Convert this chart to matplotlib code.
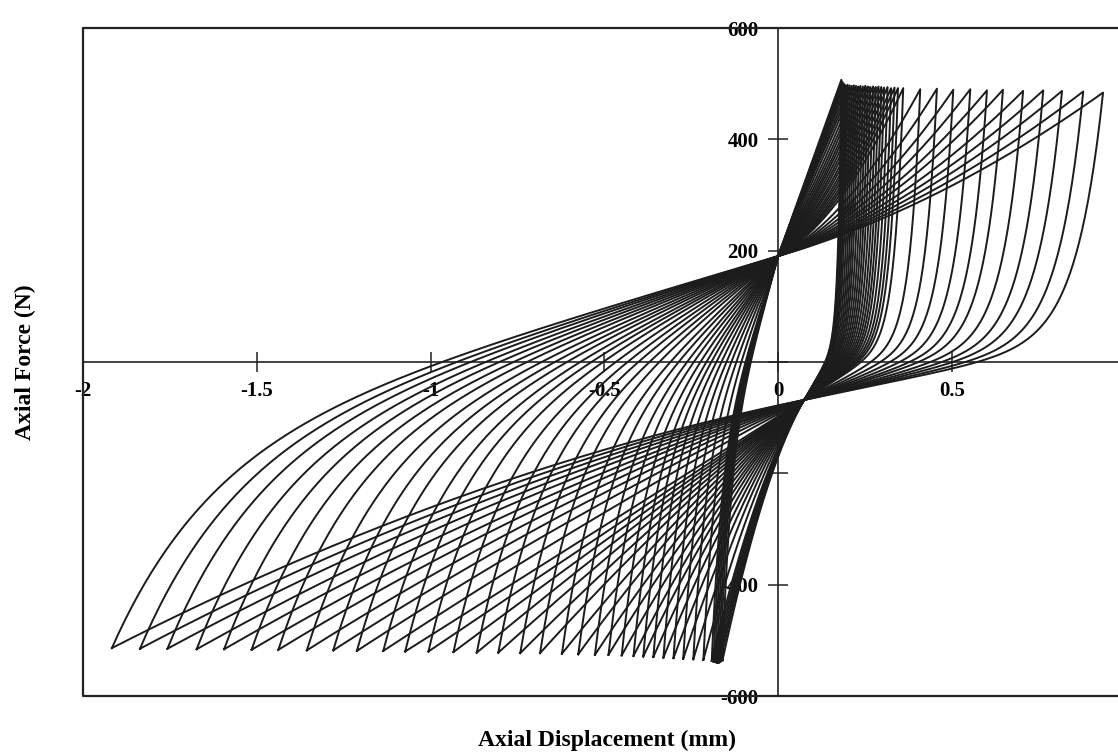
import numpy as np
import matplotlib
matplotlib.use('Agg')
import matplotlib.pyplot as plt

# ---- data (largest loop first) ----
x_min = [-1.917, -1.836, -1.757, -1.673, -1.594, -1.515, -1.438, -1.356, -1.280, -1.212,
         -1.136, -1.073, -1.006, -0.934, -0.867, -0.805, -0.742, -0.685, -0.622, -0.575,
         -0.527, -0.488, -0.450, -0.416, -0.388, -0.359, -0.330, -0.301, -0.273, -0.244,
         -0.215, -0.191, -0.186, -0.181, -0.176, -0.171, -0.166, -0.160]
x_max = [0.935, 0.878, 0.817, 0.763, 0.705, 0.647, 0.601, 0.553, 0.504, 0.457,
         0.409, 0.360, 0.345, 0.335, 0.325, 0.315, 0.305, 0.297, 0.289, 0.281,
         0.273, 0.265, 0.258, 0.251, 0.244, 0.237, 0.230, 0.224, 0.218, 0.212,
         0.206, 0.200, 0.195, 0.191, 0.188, 0.186, 0.184, 0.182]
f_min = [-514, -515, -515, -516, -516, -517, -517, -518, -518, -519,
         -519, -520, -520, -521, -522, -522, -523, -523, -524, -525,
         -526, -526, -527, -528, -529, -530, -531, -532, -533, -534,
         -535, -537, -538, -539, -540, -540, -538, -536]
f_max = [484, 486, 487, 488, 487, 489, 488, 490, 489, 491,
         490, 492, 492, 493, 492, 494, 493, 494, 495, 494,
         495, 494, 495, 496, 495, 496, 495, 496, 497, 496,
         497, 498, 497, 499, 500, 502, 504, 507]
focal_loading = (0.0, 190.0)      # where loading branches converge
focal_unloading = (0.075, -68.0)  # where unloading branches converge

x_ticks = [-2, -1.5, -1, -0.5, 0, 0.5]
x_tick_labels = ['-2', '-1.5', '-1', '-0.5', '0', '0.5']
y_ticks = [-600, -400, -200, 0, 200, 400, 600]
# labels at 0 and -200 are hidden under the dense curves in the reference
y_tick_labels = ['-600', '-400', '', '', '200', '400', '600']

# ---- branch shapes ----
def approach(x0, f0, x1, f1, c, tau, n=200):
    """steep start from (x0,f0), bending into a line that ends at (x1,f1)"""
    xs = np.linspace(x0, x1, n)
    D = abs(x1 - x0)
    d = np.abs(xs - x0)
    slope = c * (f1 - f0) / (x1 - x0)
    lam = tau * D
    fb = f1 + slope * (xs - x1)
    G = fb[0] - f0
    w = (np.exp(-d / lam) - np.exp(-D / lam)) / (1 - np.exp(-D / lam))
    return xs, fb - G * w, slope

def reload(x0, f0, x1, f1, slope, n=140):
    u = np.linspace(0, 1, n)
    a = slope * (x1 - x0) / (f1 - f0)
    a = min(max(a, 0.4), 1.0)
    return x0 + (x1 - x0) * u, f0 + (f1 - f0) * (a * u + (1 - a) * u ** 2)

fig = plt.figure(figsize=(11.18, 7.54), dpi=100)
ax = fig.add_axes([83 / 1118, 1 - 696 / 754, 1 - 83 / 1118, (696 - 28) / 754])

xf, ff = focal_loading
xl, fl = focal_unloading
for xa, xb, fa, fb_ in zip(x_min, x_max, f_min, f_max):
    x1, y1, s1 = approach(xa, fa, xf, ff, 0.5, 0.15)
    x2, y2 = reload(xf, ff, xb, fb_, s1)
    x3, y3, s3 = approach(xb, fb_, xl, fl, 0.2, 0.09)
    x4, y4 = reload(xl, fl, xa, fa, s3)
    xs = np.concatenate([x1, x2[1:], x3[1:], x4[1:]])
    ys = np.concatenate([y1, y2[1:], y3[1:], y4[1:]])
    ax.plot(xs, ys, color='#1c1c1c', lw=1.4, zorder=3, solid_joinstyle='round')

ax.set_xlim(-2, 0.978)
ax.set_ylim(-600, 600)

for s in ['top', 'right']:
    ax.spines[s].set_visible(False)
ax.spines['left'].set_position(('data', 0))
ax.spines['bottom'].set_position(('data', 0))
for s in ['left', 'bottom']:
    ax.spines[s].set_linewidth(1.2)
    ax.spines[s].set_color('#222222')

# outer frame (left, top, bottom)
ax.plot([1, 0, 0, 1], [1, 1, 0, 0], transform=ax.transAxes, color='#222222',
        lw=1.6, clip_on=False, zorder=4)

fp = dict(family=['Liberation Serif', 'DejaVu Serif'], weight='bold', size=15)
ax.set_xticks(x_ticks)
ax.set_xticklabels(x_tick_labels, **fp)
ax.set_yticks(y_ticks)
ax.set_yticklabels(y_tick_labels, **fp)
ax.tick_params(direction='inout', length=14, width=1.1, pad=7, color='#222222')

lp = dict(family=['Liberation Serif', 'DejaVu Serif'], weight='bold', size=17)
fig.text(607 / 1118, 1 - 740 / 754, 'Axial Displacement (mm)', ha='center', va='center', **lp)
fig.text(25 / 1118, 1 - 362 / 754, 'Axial Force (N)', ha='center', va='center',
         rotation=90, **lp)

fig.savefig('out.png', dpi=100)
